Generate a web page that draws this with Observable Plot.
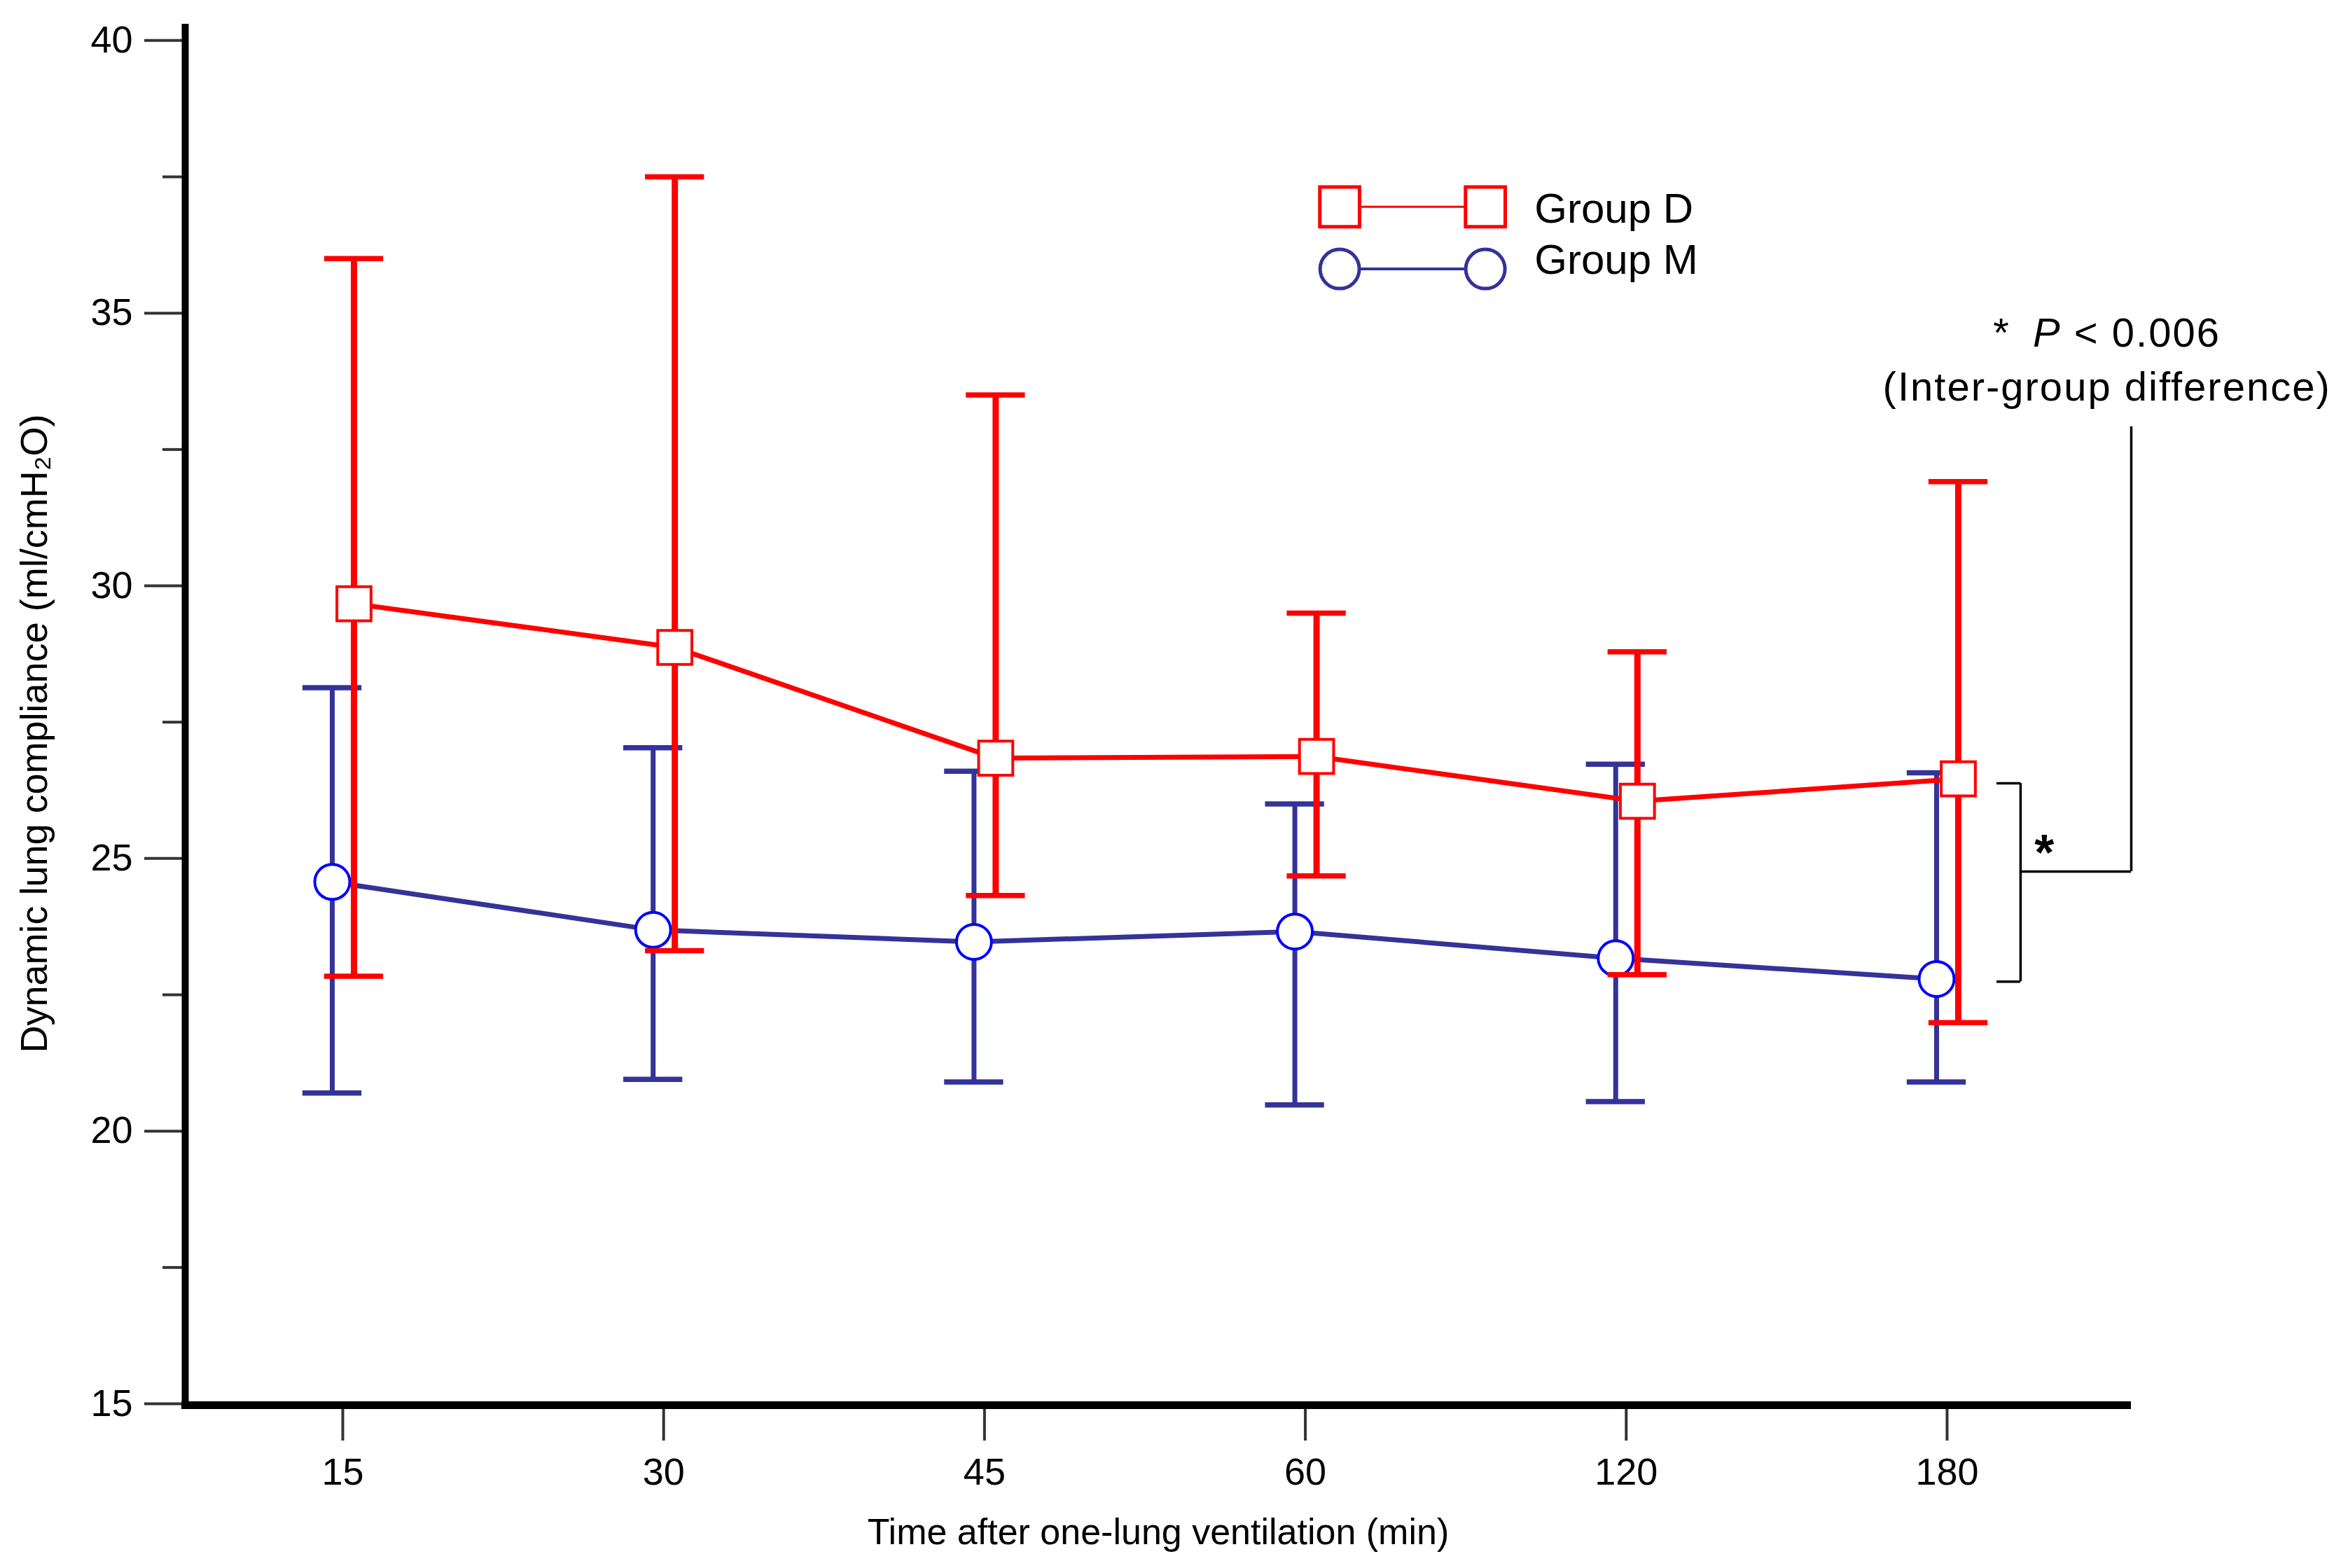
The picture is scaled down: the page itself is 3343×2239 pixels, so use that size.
<!DOCTYPE html>
<html><head><meta charset="utf-8">
<script src="https://cdn.jsdelivr.net/npm/d3@7"></script>
<script src="https://cdn.jsdelivr.net/npm/@observablehq/plot@0.6"></script>
<style>html,body{margin:0;padding:0;background:#fff}</style>
</head><body><div id="chart"></div>
<script>
// ---- data ----
const timeLabels = ["15", "30", "45", "60", "120", "180"];
const groupDMean  = [29.67, 28.87, 26.84, 26.87, 26.05, 26.46];
const groupDUpper = [36.00, 37.50, 33.50, 29.50, 28.79, 31.91];
const groupDLower = [22.84, 23.31, 24.32, 24.68, 22.87, 21.99];
const groupMMean  = [24.57, 23.69, 23.47, 23.66, 23.17, 22.79];
const groupMUpper = [28.13, 27.03, 26.60, 26.00, 26.73, 26.57];
const groupMLower = [20.70, 20.95, 20.90, 20.48, 20.54, 20.90];
const yTicks = [15, 20, 25, 30, 35, 40];
const yMinorTicks = [17.5, 22.5, 27.5, 32.5, 37.5];
const seriesNames = ["Group D", "Group M"];
const xTitle = "Time after one-lung ventilation (min)";
const yTitle = "Dynamic lung compliance (ml/cmH\u2082O)";
const pLine = "*  P < 0.006";
const pLine2 = "(Inter-group difference)";

// ---- layout / style ----
const W = 3343, H = 2239;
const ML = 264, MR = 300, MT = 34, MB = 235;
const xDom = [-0.491, 5.574];
const yDom = [15, 40.3];
const RED = "#ff0000", NAVY = "#333399", BLUE = "#0000ff";
const capHalf = 0.092;
const FONT = "'Liberation Sans', Arial, Helvetica, sans-serif";

const idx = timeLabels.map((_, i) => i);
const dRows = idx.map(i => ({i, mean: groupDMean[i], lo: groupDLower[i], hi: groupDUpper[i]}));
const mRows = idx.map(i => ({i, mean: groupMMean[i], lo: groupMLower[i], hi: groupMUpper[i]}));

function seriesMarks(rows, color, barW, dx, symbol, r, dotStroke) {
  return [
    Plot.ruleX(rows, {x: "i", y1: "lo", y2: "hi", stroke: color, strokeWidth: barW, dx}),
    Plot.ruleY(rows, {y: "hi", x1: d => d.i - capHalf, x2: d => d.i + capHalf, stroke: color, strokeWidth: 7.5, dx}),
    Plot.ruleY(rows, {y: "lo", x1: d => d.i - capHalf, x2: d => d.i + capHalf, stroke: color, strokeWidth: 7.5, dx}),
    Plot.line(rows, {x: "i", y: "mean", stroke: color, strokeWidth: 7, dx}),
    Plot.dot(rows, {x: "i", y: "mean", symbol, r, fill: "white", stroke: dotStroke, strokeWidth: 4, dx})
  ];
}

// legend placement (data units)
const legX = [3.107, 3.561], legTextX = 3.714;
const legY = [36.95, 35.81], legTextY = [36.90, 35.97];

// bracket annotation (derived from last time point)
const last = timeLabels.length - 1;
const brTop = groupDMean[last] - 0.08, brBot = groupMMean[last] - 0.05;
const brMid = (brTop + brBot) / 2 + 0.2;
const brHookX = 5.155, brX = 5.229, brFarX = xDom[1], brLineTop = 32.92;

const chart = Plot.plot({
  width: W, height: H,
  marginLeft: ML, marginRight: MR, marginTop: MT, marginBottom: MB,
  style: {fontFamily: FONT, background: "white", color: "black", overflow: "visible"},
  x: {type: "linear", domain: xDom, axis: null, label: null},
  y: {domain: yDom, axis: null, label: null},
  marks: [
    Plot.axisY({ticks: yMinorTicks, tickSize: 32, tickFormat: () => "", stroke: "#333", strokeWidth: 4, label: null}),
    Plot.axisY({ticks: yTicks, tickSize: 58, tickPadding: 17, fontSize: 54, stroke: "#333", strokeWidth: 4, label: null}),
    Plot.axisX({ticks: idx, tickFormat: i => timeLabels[i], tickSize: 53, tickPadding: 24, fontSize: 54, stroke: "#333", strokeWidth: 4, label: null}),
    Plot.ruleX([xDom[0]], {stroke: "black", strokeWidth: 10}),
    Plot.ruleY([yDom[0]], {stroke: "black", strokeWidth: 11, dy: 2, x1: xDom[0] - 0.011, x2: xDom[1]}),
    ...seriesMarks(mRows, NAVY, 7, -15, "circle", 25, BLUE),
    ...seriesMarks(dRows, RED, 9, 16, "square", 27.5, RED),
    // legend
    Plot.line(legX.map(x => ({x, y: legY[0]})), {x: "x", y: "y", stroke: RED, strokeWidth: 3}),
    Plot.line(legX.map(x => ({x, y: legY[1]})), {x: "x", y: "y", stroke: NAVY, strokeWidth: 4}),
    Plot.dot(legX, {x: d => d, y: legY[0], symbol: "square", r: 32, fill: "white", stroke: RED, strokeWidth: 5}),
    Plot.dot(legX, {x: d => d, y: legY[1], symbol: "circle", r: 28, fill: "white", stroke: NAVY, strokeWidth: 5}),
    Plot.text(seriesNames, {x: legTextX, y: (d, i) => legTextY[i], text: d => d, textAnchor: "start", lineAnchor: "middle", fontSize: 60, fill: "black"}),
    // significance bracket
    Plot.ruleX([brX], {y1: brBot, y2: brTop, stroke: "black", strokeWidth: 3.5}),
    Plot.ruleY([brTop, brBot], {x1: brHookX, x2: brX, stroke: "black", strokeWidth: 3.5}),
    Plot.ruleY([brMid], {x1: brX, x2: brFarX, stroke: "black", strokeWidth: 3.5}),
    Plot.ruleX([brFarX], {y1: brMid, y2: brLineTop, stroke: "black", strokeWidth: 3.5}),
    Plot.text(["*"], {x: 5.303, y: brMid, text: d => d, fontSize: 72, fontWeight: "bold", dy: -3, lineAnchor: "bottom", fill: "black"}),
    Plot.text([pLine], {x: 5.498, y: 34.63, text: d => d, fontSize: 58, lineAnchor: "middle", fill: "black"}),
    Plot.text([pLine2], {x: 5.498, y: 33.64, text: d => d, fontSize: 58, lineAnchor: "middle", fill: "black"}),
    // axis titles
    Plot.text([xTitle], {frameAnchor: "bottom", text: d => d, dy: 184, fontSize: 52, textAnchor: "middle", lineAnchor: "middle", fill: "black"}),
    Plot.text([yTitle], {frameAnchor: "left", text: d => d, dx: -215, dy: 28, rotate: -90, fontSize: 54, textAnchor: "middle", lineAnchor: "middle", fill: "black"})
  ]
});

// italic P in the significance line; slight letter spacing on annotation
d3.select(chart).selectAll("text").each(function () {
  if (this.textContent === pLine) {
    const t = d3.select(this);
    t.text(null).attr("letter-spacing", 2);
    t.append("tspan").text("*");
    t.append("tspan").attr("dx", 14).attr("font-style", "italic").text(" P");
    t.append("tspan").text(" < 0.006");
  } else if (this.textContent === pLine2) {
    d3.select(this).attr("letter-spacing", 2);
  }
});

document.getElementById("chart").appendChild(chart);
</script>
</body></html>
